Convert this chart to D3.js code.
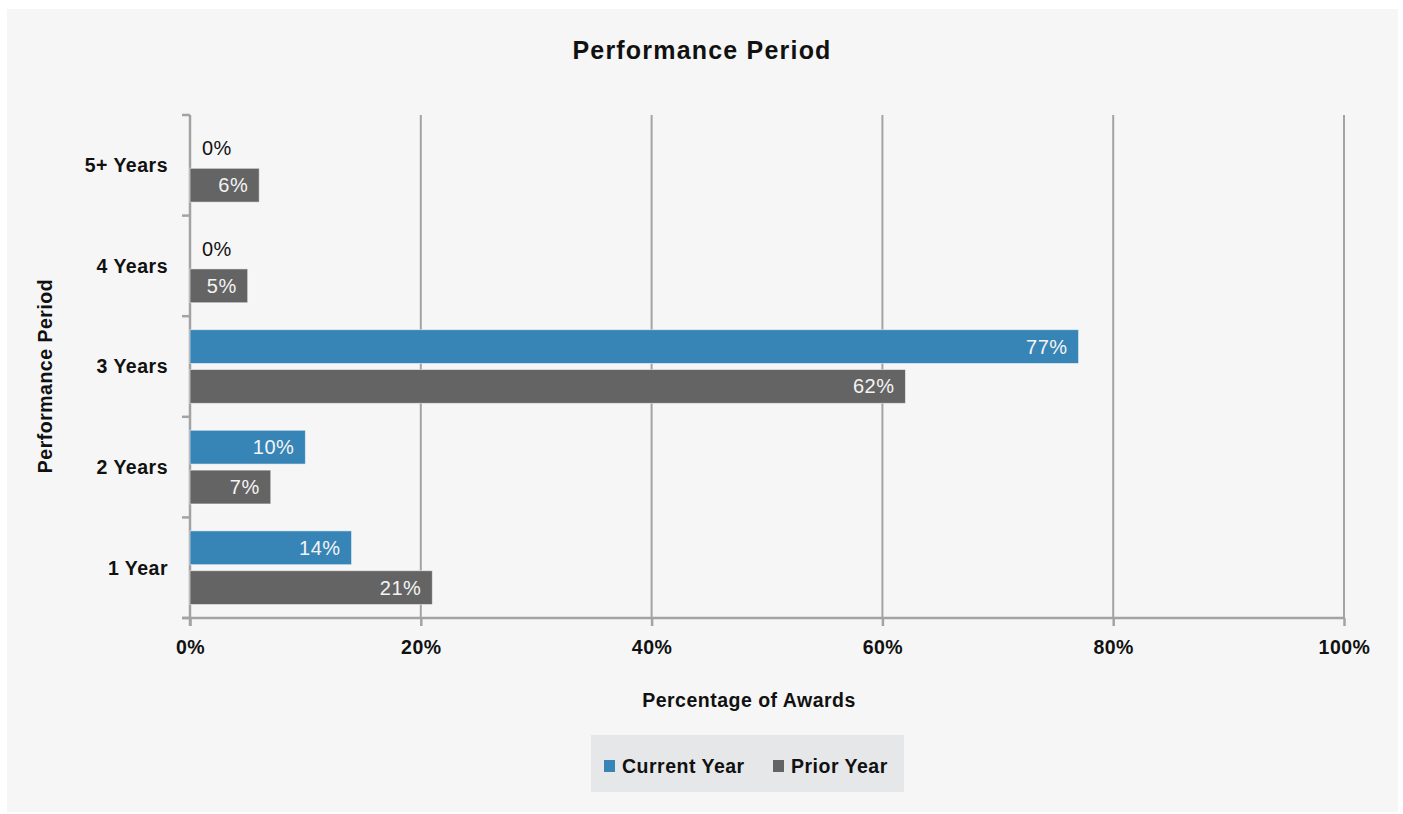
<!DOCTYPE html>
<html>
<head>
<meta charset="utf-8">
<script src="https://cdn.jsdelivr.net/npm/d3@7"></script>
<style>
  html, body { margin: 0; padding: 0; background: #ffffff; }
  svg { display: block; font-family: "Liberation Sans", Arial, Helvetica, sans-serif; }
</style>
</head>
<body>
<svg id="chart" width="1403" height="814"></svg>
<script>
// Performance period of awards: share of awards, current vs prior year
const categories = ["5+ Years", "4 Years", "3 Years", "2 Years", "1 Year"];
const seriesNames = ["Current Year", "Prior Year"];
const currentYear = [0, 0, 77, 10, 14];
const priorYear = [6, 5, 62, 7, 21];
const xTicks = [0, 20, 40, 60, 80, 100];

const colors = { "Current Year": "#3784b6", "Prior Year": "#646464" };

const svg = d3.select("#chart");

// panel background
svg.append("rect")
  .attr("x", 7).attr("y", 9).attr("width", 1391).attr("height", 803)
  .attr("fill", "#f6f6f6");

const margin = { left: 190, right: 1344, top: 115, bottom: 618 };

const x = d3.scaleLinear().domain([0, 100]).range([margin.left, margin.right]);
const y = d3.scaleBand().domain(categories).range([margin.top, margin.bottom]);
const ySub = d3.scaleBand().domain(seriesNames)
  .range([0, y.bandwidth()]).paddingInner(0.15).paddingOuter(0.3375);

const rows = categories.map((c, i) => ({
  category: c,
  values: [
    { series: "Current Year", value: currentYear[i] },
    { series: "Prior Year", value: priorYear[i] }
  ]
}));

const boldText = sel => sel
  .attr("font-size", 19.5).attr("font-weight", "bold")
  .attr("letter-spacing", 0.5).attr("fill", "#111");

// title
svg.append("text")
  .attr("x", 702).attr("y", 59)
  .attr("text-anchor", "middle")
  .attr("font-size", 25).attr("font-weight", "bold")
  .attr("letter-spacing", 1.2)
  .attr("fill", "#111")
  .text("Performance Period");

// vertical gridlines
svg.append("g")
  .selectAll("line")
  .data(xTicks.filter(t => t > 0))
  .join("line")
  .attr("x1", d => x(d)).attr("x2", d => x(d))
  .attr("y1", margin.top).attr("y2", margin.bottom)
  .attr("stroke", "#a3a3a3").attr("stroke-width", 2);

// bottom axis
const xAxis = d3.axisBottom(x).tickValues(xTicks).tickFormat(d => d + "%")
  .tickSizeInner(8).tickSizeOuter(0).tickPadding(14);
const gx = svg.append("g")
  .attr("transform", `translate(0,${margin.bottom})`)
  .call(xAxis);
gx.select(".domain").remove();
gx.append("line")
  .attr("x1", margin.left - 8).attr("x2", margin.right)
  .attr("stroke", "#a3a3a3").attr("stroke-width", 2.5);
gx.selectAll(".tick line").attr("stroke", "#a3a3a3").attr("stroke-width", 2.5);
gx.selectAll(".tick text")
  .call(boldText)
  .attr("font-family", "Liberation Sans, Arial, sans-serif");

// left axis with ticks on band boundaries
const gy = svg.append("g");
gy.append("line")
  .attr("x1", margin.left).attr("x2", margin.left)
  .attr("y1", margin.top).attr("y2", margin.bottom + 8)
  .attr("stroke", "#a3a3a3").attr("stroke-width", 2.5);
const boundaries = categories.map(c => y(c)).concat([margin.bottom]);
gy.selectAll("line.bt")
  .data(boundaries)
  .join("line").attr("class", "bt")
  .attr("x1", margin.left - 8).attr("x2", margin.left)
  .attr("y1", d => d).attr("y2", d => d)
  .attr("stroke", "#a3a3a3").attr("stroke-width", 2.5);
gy.selectAll("text")
  .data(categories)
  .join("text")
  .attr("x", 168)
  .attr("y", d => y(d) + y.bandwidth() / 2)
  .attr("dy", "0.35em")
  .attr("text-anchor", "end")
  .call(boldText)
  .text(d => d);

// bars
const groups = svg.append("g")
  .selectAll("g")
  .data(rows)
  .join("g")
  .attr("transform", d => `translate(0,${y(d.category)})`);

groups.selectAll("rect")
  .data(d => d.values)
  .join("rect")
  .attr("x", x(0))
  .attr("y", d => ySub(d.series))
  .attr("width", d => x(d.value) - x(0))
  .attr("height", ySub.bandwidth())
  .attr("fill", d => colors[d.series])
  .attr("stroke", "rgba(255,255,255,0.55)")
  .attr("stroke-width", d => d.value > 0 ? 1 : 0);

// value labels
groups.selectAll("text")
  .data(d => d.values)
  .join("text")
  .attr("x", d => d.value > 0 ? x(d.value) - 11 : x(0) + 12)
  .attr("y", d => ySub(d.series) + ySub.bandwidth() / 2 + (d.value > 0 ? 0 : 3))
  .attr("dy", "0.35em")
  .attr("text-anchor", d => d.value > 0 ? "end" : "start")
  .attr("font-size", 20).attr("letter-spacing", 0.5)
  .attr("fill", d => d.value > 0 ? "#f4f4f4" : "#111")
  .text(d => d.value + "%");

// axis titles
svg.append("text")
  .attr("x", 749).attr("y", 707)
  .attr("text-anchor", "middle")
  .call(boldText)
  .text("Percentage of Awards");

svg.append("text")
  .attr("transform", "translate(52,376) rotate(-90)")
  .attr("text-anchor", "middle")
  .call(boldText)
  .text("Performance Period");

// legend
const legend = svg.append("g");
legend.append("rect")
  .attr("x", 591).attr("y", 735).attr("width", 313).attr("height", 57)
  .attr("fill", "#e6e7e9");
const legendX = [604, 773];
const items = legend.selectAll("g.item")
  .data(seriesNames)
  .join("g").attr("class", "item")
  .attr("transform", (d, i) => `translate(${legendX[i]},760)`);
items.append("rect")
  .attr("width", 11).attr("height", 12)
  .attr("fill", d => colors[d]);
items.append("text")
  .attr("x", 18).attr("y", 6).attr("dy", "0.35em")
  .call(boldText)
  .text(d => d);
</script>
</body>
</html>
